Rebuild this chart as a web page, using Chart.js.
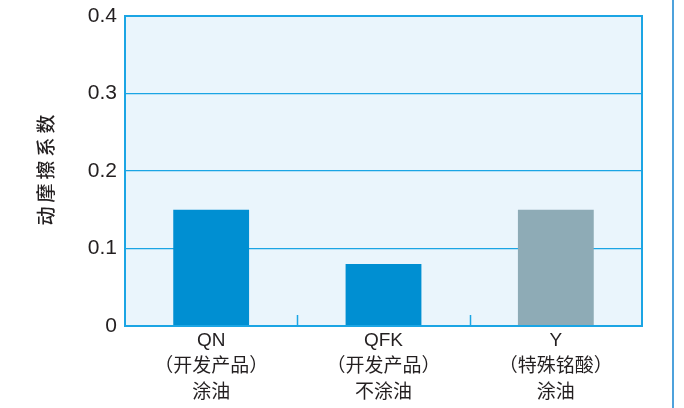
<!DOCTYPE html>
<html>
<head>
<meta charset="utf-8">
<script src="https://cdn.jsdelivr.net/npm/chart.js@4/dist/chart.umd.min.js"></script>
<style>
  html, body { margin: 0; padding: 0; background: #ffffff; }
  #wrap { width: 684px; height: 408px; position: relative; }
</style>
</head>
<body>
<div id="wrap"><canvas id="c" width="684" height="408"></canvas></div>
<script>
const categories = [
  ["QN", "（开发产品）", "涂油"],
  ["QFK", "（开发产品）", "不涂油"],
  ["Y", "（特殊铭酸）", "涂油"]
];
const frictionValues = [0.15, 0.08, 0.15];
const barColors = ["#008fd2", "#008fd2", "#8eabb6"];
const yTicks = [0, 0.1, 0.2, 0.3, 0.4];
const yTitle = "动摩擦系数";

const FONT = "'Liberation Sans', 'Noto Sans CJK SC', sans-serif";
const BLUE = "#1ba5e4";
const TEXT = "#231f20";

// plot background, frame, category dividers, y title and right margin rule
const decor = {
  id: "decor",
  beforeDraw(chart) {
    const { ctx, chartArea: a } = chart;
    ctx.save();
    ctx.fillStyle = "#eaf5fc";
    ctx.fillRect(a.left, a.top, a.right - a.left, a.bottom - a.top);
    ctx.restore();
  },
  afterDraw(chart) {
    const { ctx, chartArea: a, scales } = chart;
    const x = scales.x;
    ctx.save();
    ctx.strokeStyle = BLUE;
    ctx.lineWidth = 2;
    ctx.strokeRect(a.left, a.top, a.right - a.left, a.bottom - a.top);
    ctx.lineWidth = 1.5;
    for (let i = 0; i < categories.length - 1; i++) {
      const px = Math.round((x.getPixelForValue(i) + x.getPixelForValue(i + 1)) / 2) + 0.5;
      ctx.beginPath();
      ctx.moveTo(px, a.bottom);
      ctx.lineTo(px, a.bottom - 11);
      ctx.stroke();
    }
    ctx.strokeStyle = "#4ea2dc";
    ctx.lineWidth = 2;
    ctx.beginPath();
    ctx.moveTo(673, 0);
    ctx.lineTo(673, chart.height);
    ctx.stroke();

    // vertical axis title, one glyph at a time with wide spacing
    const chars = Array.from(yTitle);
    const step = 23;
    const cy = 170;
    ctx.translate(46, cy);
    ctx.rotate(-Math.PI / 2);
    ctx.fillStyle = TEXT;
    ctx.font = "500 19px 'Noto Sans CJK SC', sans-serif";
    ctx.textAlign = "center";
    ctx.textBaseline = "middle";
    chars.forEach((ch, i) => {
      ctx.fillText(ch, (i - (chars.length - 1) / 2) * step, 0);
    });
    ctx.restore();
  }
};

new Chart(document.getElementById("c"), {
  type: "bar",
  data: {
    labels: categories,
    datasets: [{
      data: frictionValues,
      backgroundColor: barColors,
      borderWidth: 0,
      categoryPercentage: 1,
      barPercentage: 0.44
    }]
  },
  options: {
    responsive: false,
    animation: false,
    devicePixelRatio: 1,
    layout: { padding: { top: 16, right: 42, left: 0, bottom: 0 } },
    plugins: { legend: { display: false }, tooltip: { enabled: false } },
    scales: {
      x: {
        grid: { display: false, drawTicks: false },
        border: { display: false },
        ticks: {
          color: TEXT,
          font: { family: FONT, size: 19, lineHeight: 1.37 },
          padding: 2,
          maxRotation: 0,
          autoSkip: false
        },
        afterFit(s) { s.height = 82; }
      },
      y: {
        min: 0,
        max: 0.4,
        afterBuildTicks(s) { s.ticks = yTicks.map(v => ({ value: v })); },
        grid: {
          color: (c) => (c.tick && (c.tick.value === 0 || c.tick.value === 0.4)) ? "rgba(0,0,0,0)" : BLUE,
          lineWidth: 1.2,
          drawTicks: false
        },
        border: { display: false },
        ticks: {
          color: TEXT,
          font: { family: FONT, size: 21 },
          padding: 8,
          callback: (v) => (v === 0 ? "0" : v.toFixed(1))
        },
        afterFit(s) {
          s.width = 125;
          s.paddingTop = 0;
          s.paddingBottom = 0;
        }
      }
    }
  },
  plugins: [decor]
});
</script>
</body>
</html>
